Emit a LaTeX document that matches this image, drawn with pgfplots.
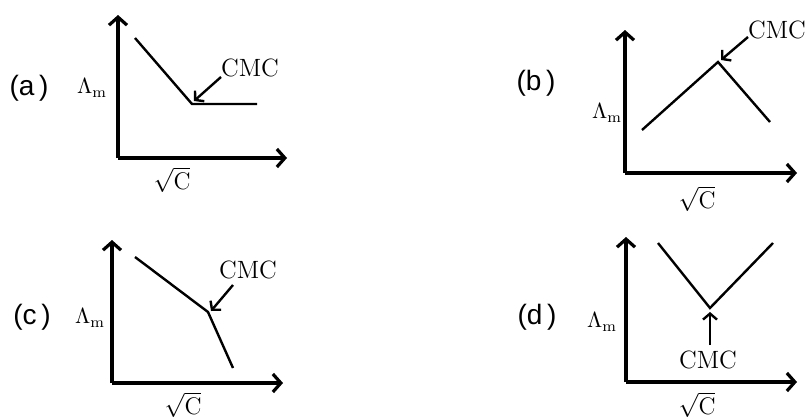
\documentclass[border=0pt]{standalone}
\usepackage{pgfplots}
\pgfplotsset{compat=1.18}
\usepackage{fontspec}
\newfontfamily\labelsans{Liberation Sans}
\usetikzlibrary{arrows.meta}

% one pixel of the reference = 0.5pt; data are given in pixel units (y measured from the bottom)
\pgfplotsset{
  panel/.style={
    x=0.5pt, y=0.5pt, anchor=south west,
    axis lines=left,
    axis line style={line width=2pt, -{Straight Barb[length=4pt,width=9pt,line width=1.6pt]}},
    xtick=\empty, ytick=\empty, enlargelimits=false, clip=false,
  },
  curve/.style={black, line width=1.2pt, no marks, line join=miter},
}
\tikzset{
  cmcarrow/.style={line width=1.2pt, -{Straight Barb[length=3pt,width=7pt,line width=1.2pt]}},
  tag/.style={font=\labelsans\fontsize{14}{16}\selectfont},
  cmc/.style={font=\fontsize{12.5}{14}\selectfont},
  lam/.style={font=\fontsize{11}{13}\selectfont},
  sqc/.style={font=\fontsize{12}{14}\selectfont, inner sep=1pt},
}

\begin{document}
\begin{tikzpicture}
\useasboundingbox (0,0) rectangle (404.5pt,209.5pt);

% (a)
\begin{axis}[panel, at={(59pt,130.5pt)}, xmin=118, xmax=287, ymin=261, ymax=404]
\addplot[curve] coordinates {(135,381) (192,315) (257,315)};
\draw[cmcarrow] (axis cs:221,342) -- (axis cs:194,318);
\node[cmc] at (axis cs:250,351) {CMC};
\node[tag] at (axis cs:29,331) {(a\,)};
\node[lam] at (axis cs:92,331) {$\Lambda_{\mathrm{m}}$};
\node[sqc] at (axis cs:172,239) {$\sqrt{\mathrm{C}}$};
\end{axis}

% (b)
\begin{axis}[panel, at={(312.5pt,123pt)}, xmin=625, xmax=797, ymin=246, ymax=389]
\addplot[curve] coordinates {(642,289) (718,357) (770,297)};
\draw[cmcarrow] (axis cs:748,382) -- (axis cs:721,359);
\node[cmc] at (axis cs:777,389) {CMC};
\node[tag] at (axis cs:536,336) {(b\,)};
\node[lam] at (axis cs:607,306) {$\Lambda_{\mathrm{m}}$};
\node[sqc] at (axis cs:697,220) {$\sqrt{\mathrm{C}}$};
\end{axis}

% (c)
\begin{axis}[panel, at={(56pt,18pt)}, xmin=112, xmax=283, ymin=36, ymax=179]
\addplot[curve] coordinates {(135,162) (208,107) (233,51)};
\draw[cmcarrow] (axis cs:233,134) -- (axis cs:211,108);
\node[cmc] at (axis cs:248,149) {CMC};
\node[tag] at (axis cs:32,102) {(c\,)};
\node[lam] at (axis cs:90,101) {$\Lambda_{\mathrm{m}}$};
\node[sqc] at (axis cs:183,14) {$\sqrt{\mathrm{C}}$};
\end{axis}

% (d)
\begin{axis}[panel, at={(313pt,18.5pt)}, xmin=626, xmax=797, ymin=37, ymax=182]
\addplot[curve] coordinates {(658,176) (710,111) (773,176)};
\draw[cmcarrow] (axis cs:710,74) -- (axis cs:710,107);
\node[cmc] at (axis cs:708,59) {CMC};
\node[tag] at (axis cs:537,102) {(d\,)};
\node[lam] at (axis cs:602,97) {$\Lambda_{\mathrm{m}}$};
\node[sqc] at (axis cs:697,14) {$\sqrt{\mathrm{C}}$};
\end{axis}
\end{tikzpicture}
\end{document}
